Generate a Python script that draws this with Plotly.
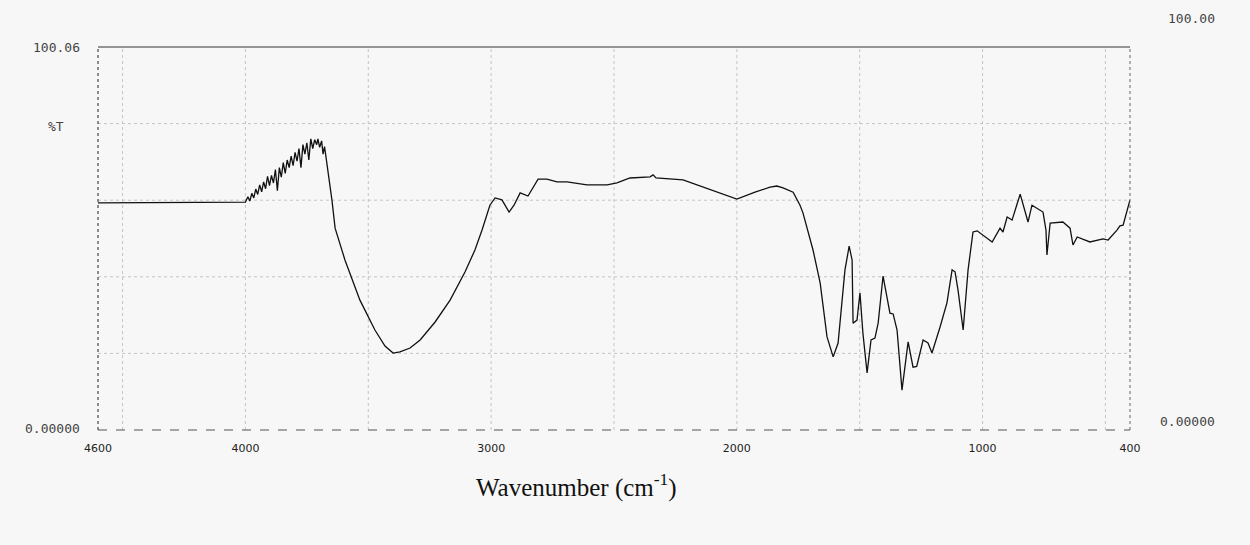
import plotly.graph_objects as go

# Infrared transmission spectrum: wavenumber (cm-1) vs. %T
wavenumber = [
    4600, 4000, 3990, 3982, 3974, 3966, 3958, 3950, 3942, 3934, 3926, 3918,
    3910, 3902, 3894, 3886, 3878, 3870, 3862, 3854, 3846, 3838, 3830, 3822,
    3814, 3806, 3798, 3790, 3782, 3774, 3766, 3758, 3750, 3742, 3734, 3726,
    3718, 3710, 3705, 3698, 3690, 3684, 3678, 3668, 3648, 3635, 3595, 3534,
    3473, 3432, 3399, 3371, 3330, 3289, 3228, 3167, 3106, 3066, 3037, 3005,
    2984, 2956, 2927, 2907, 2882, 2850, 2809, 2773, 2732, 2691, 2610, 2528,
    2488, 2435, 2353, 2341, 2329, 2219, 2109, 2000, 1926, 1865, 1837, 1812,
    1771, 1743, 1731, 1690, 1661, 1633, 1608, 1588, 1560, 1543, 1531, 1527,
    1511, 1499, 1487, 1470, 1454, 1438, 1425, 1405, 1377, 1364, 1348, 1328,
    1303, 1283, 1268, 1242, 1222, 1206, 1173, 1145, 1124, 1112, 1100, 1079,
    1059, 1039, 1022, 998, 961, 929, 917, 900, 880, 847, 815, 799,
    754, 742, 738, 725, 673, 644, 632, 615, 563, 510, 489, 453,
    441, 428, 416, 408, 400,
]
transmittance = [
    59.3, 59.5, 60.9, 59.8, 61.8, 60.6, 62.9, 61.5, 64.0, 62.2, 64.8, 63.0,
    66.2, 63.8, 66.5, 64.5, 68.0, 62.5, 68.5, 66.0, 69.8, 67.0, 70.5, 68.5,
    71.5, 69.0, 72.5, 70.2, 73.5, 68.5, 74.5, 72.0, 75.0, 70.5, 76.0, 73.5,
    75.8, 74.5, 76.0, 73.8, 75.5, 72.0, 74.0, 69.7, 60.1, 52.7, 44.4, 33.9,
    26.1, 21.9, 20.1, 20.4, 21.4, 23.5, 28.2, 33.9, 41.3, 47.0, 52.2, 58.7,
    60.6, 60.1, 56.9, 58.7, 61.9, 61.1, 65.5, 65.5, 64.8, 64.8, 64.0, 64.0,
    64.5, 65.8, 66.1, 66.6, 65.8, 65.3, 62.7, 60.3, 62.1, 63.4, 63.7, 63.2,
    62.1, 58.7, 56.7, 47.0, 38.4, 24.3, 19.1, 22.7, 41.8, 48.0, 44.4, 27.9,
    28.7, 35.8, 25.3, 14.9, 23.5, 24.0, 27.9, 40.2, 30.5, 30.3, 26.1, 10.4,
    23.0, 16.4, 16.6, 23.5, 22.7, 20.1, 26.9, 33.2, 41.8, 41.3, 36.6, 26.1,
    41.8, 51.7, 52.0, 50.9, 49.1, 52.7, 51.7, 55.6, 54.8, 61.6, 54.3, 58.7,
    56.9, 52.2, 45.7, 54.0, 54.3, 52.7, 48.3, 50.4, 49.1, 49.9, 49.6, 52.2,
    53.3, 53.5, 56.1, 58.2, 60.1,
]

x_ticks = [4600, 4000, 3000, 2000, 1000, 400]
x_tick_text = ["4600", "4000", "3000", "2000", "1000", "400"]
x_grid = [4500, 4000, 3500, 3000, 2500, 2000, 1500, 1000, 500]
y_grid = [20, 40, 60, 80]

mono = "DejaVu Sans Mono"
label_grey = "#444444"
label_font = dict(family=mono, size=13, color=label_grey)

fig = go.Figure()
fig.add_trace(go.Scatter(
    x=wavenumber, y=transmittance, mode="lines",
    line=dict(color="#111111", width=1.3), showlegend=False,
    hoverinfo="skip",
))

shapes = []
for g in x_grid:
    shapes.append(dict(type="line", xref="x", yref="paper", x0=g, x1=g, y0=0, y1=1,
                       line=dict(color="#c4c4c4", width=1, dash="dot"), layer="below"))
for g in y_grid:
    shapes.append(dict(type="line", xref="paper", yref="y", x0=0, x1=1, y0=g, y1=g,
                       line=dict(color="#c4c4c4", width=1, dash="dot"), layer="below"))
# frame: solid top, dashed bottom, dotted sides
shapes += [
    dict(type="line", xref="paper", yref="paper", x0=0, x1=1, y0=1, y1=1,
         line=dict(color="#333333", width=1.2)),
    dict(type="line", xref="paper", yref="paper", x0=0, x1=1, y0=0, y1=0,
         line=dict(color="#555555", width=1.2, dash="dash")),
    dict(type="line", xref="paper", yref="paper", x0=0, x1=0, y0=0, y1=1,
         line=dict(color="#444444", width=1.2, dash="dot")),
    dict(type="line", xref="paper", yref="paper", x0=1, x1=1, y0=0, y1=1,
         line=dict(color="#666666", width=1, dash="dot")),
]

annotations = [
    dict(text="100.06", xref="paper", yref="y", x=0, y=100, xanchor="right",
         xshift=-16, yshift=0, showarrow=False, font=label_font),
    dict(text="%T", xref="paper", yref="y", x=0, y=80, xanchor="right",
         xshift=-32, yshift=-3, showarrow=False, font=label_font),
    dict(text="0.00000", xref="paper", yref="y", x=0, y=0, xanchor="right",
         xshift=-16, yshift=2, showarrow=False, font=label_font),
    dict(text="100.00", xref="paper", yref="y", x=1, y=100, xanchor="left",
         xshift=36, yshift=29, showarrow=False, font=label_font),
    dict(text="0.00000", xref="paper", yref="y", x=1, y=0, xanchor="left",
         xshift=28, yshift=9, showarrow=False, font=label_font),
    dict(text="Wavenumber (cm<sup>-1</sup>)", xref="paper", yref="paper", x=0.464, y=0,
         yshift=-55, yanchor="middle", showarrow=False,
         font=dict(family="Liberation Serif", size=25, color="#111111")),
]

fig.update_layout(
    width=1250, height=545,
    margin=dict(l=98, r=120, t=47, b=115),
    paper_bgcolor="#f7f7f7", plot_bgcolor="#f7f7f7",
    shapes=shapes, annotations=annotations,
    xaxis=dict(range=[4600, 400], showgrid=False, zeroline=False,
               tickmode="array", tickvals=x_ticks, ticktext=x_tick_text,
               ticks="", ticklabelstandoff=10,
               tickfont=dict(family="DejaVu Sans", size=11, color="#222222")),
    yaxis=dict(range=[0, 100], showgrid=False, zeroline=False,
               showticklabels=False, ticks=""),
)

fig.write_html("out.html")
